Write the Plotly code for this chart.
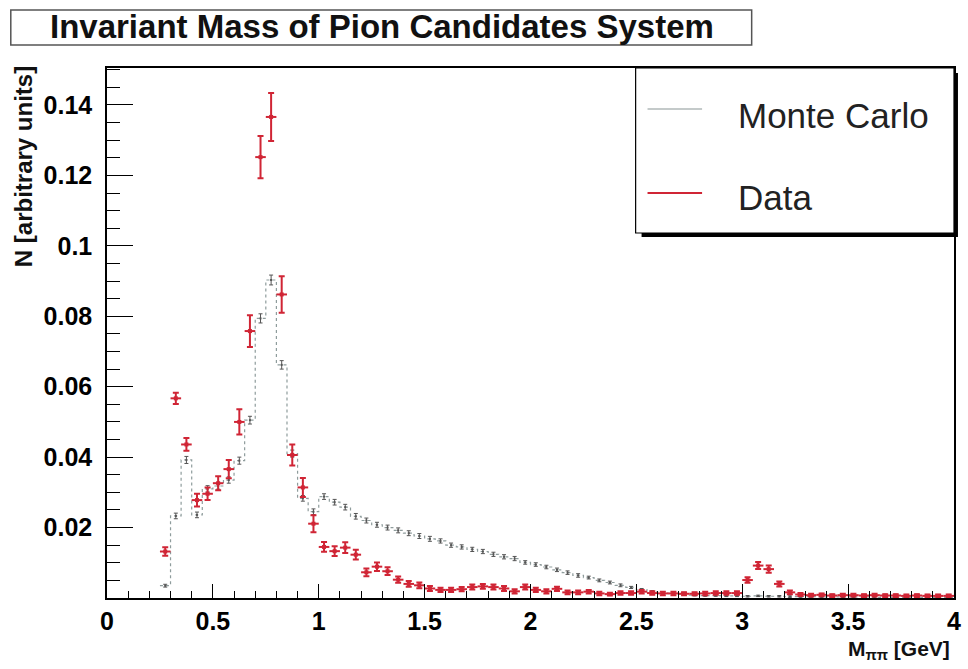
import plotly.graph_objects as go

# ---------------- data (bin centres in GeV, bin width 0.05) ----------------
data_mass = [0.275, 0.325, 0.375, 0.425, 0.475, 0.525, 0.575, 0.625, 0.675, 0.725,
             0.775, 0.825, 0.875, 0.925, 0.975, 1.025, 1.075, 1.125, 1.175, 1.225,
             1.275, 1.325, 1.375, 1.425, 1.475, 1.525, 1.575, 1.625, 1.675, 1.725,
             1.775, 1.825, 1.875, 1.925, 1.975, 2.025, 2.075, 2.125, 2.175, 2.225,
             2.275, 2.325, 2.375, 2.425, 2.475, 2.525, 2.575, 2.625, 2.675, 2.725,
             2.775, 2.825, 2.875, 2.925, 2.975, 3.025, 3.075, 3.125, 3.175, 3.225,
             3.275, 3.325, 3.375, 3.425, 3.475, 3.525, 3.575, 3.625, 3.675, 3.725,
             3.775, 3.825, 3.875, 3.925, 3.975]

data_vals = [0.0132, 0.0567, 0.0436, 0.0278, 0.0296, 0.0326, 0.0366, 0.0500, 0.0758, 0.1252,
             0.1366, 0.0862, 0.0406, 0.0314, 0.0211, 0.0145, 0.0133, 0.0143, 0.0123, 0.0073,
             0.0089, 0.0076, 0.0052, 0.0040, 0.0036, 0.0027, 0.0023, 0.0023, 0.0025, 0.0031,
             0.0033, 0.0031, 0.0027, 0.0019, 0.0031, 0.0023, 0.0019, 0.0026, 0.0016, 0.0016,
             0.0018, 0.0013, 0.0011, 0.0014, 0.0014, 0.0018, 0.0014, 0.0013, 0.0013, 0.0012,
             0.0012, 0.0013, 0.0014, 0.0014, 0.0014, 0.0051, 0.0092, 0.0082, 0.0040, 0.0016,
             0.0010, 0.0008, 0.0009, 0.0007, 0.0008, 0.0008, 0.0007, 0.0008, 0.0007, 0.0007,
             0.0006, 0.0007, 0.0006, 0.0006, 0.0006]

data_errs = [0.0012, 0.0016, 0.0018, 0.0018, 0.0018, 0.0020, 0.0026, 0.0036, 0.0045, 0.0060,
             0.0068, 0.0052, 0.0030, 0.0027, 0.0024, 0.0014, 0.0014, 0.0015, 0.0014, 0.0011,
             0.0012, 0.0011, 0.0009, 0.0008, 0.0008, 0.0007, 0.0006, 0.0006, 0.0006, 0.0007,
             0.0007, 0.0007, 0.0007, 0.0006, 0.0007, 0.0006, 0.0006, 0.0006, 0.0005, 0.0005,
             0.0005, 0.0005, 0.0004, 0.0005, 0.0005, 0.0005, 0.0005, 0.0005, 0.0005, 0.0004,
             0.0004, 0.0005, 0.0005, 0.0005, 0.0005, 0.0008, 0.0010, 0.0010, 0.0007, 0.0005,
             0.0004, 0.0004, 0.0004, 0.0004, 0.0004, 0.0004, 0.0004, 0.0004, 0.0004, 0.0004,
             0.0004, 0.0004, 0.0004, 0.0004, 0.0004]

mc_mass = data_mass
mc_vals = [0.0035, 0.0233, 0.0392, 0.0236, 0.0310, 0.0318, 0.0335, 0.0390, 0.0505, 0.0794,
           0.0903, 0.0662, 0.0410, 0.0283, 0.0245, 0.0288, 0.0272, 0.0258, 0.0232, 0.0220,
           0.0208, 0.0200, 0.0192, 0.0184, 0.0176, 0.0168, 0.0162, 0.0150, 0.0145, 0.0138,
           0.0132, 0.0124, 0.0117, 0.0112, 0.0101, 0.0095, 0.0088, 0.0080, 0.0072, 0.0064,
           0.0058, 0.0050, 0.0044, 0.0036, 0.0030, 0.0024, 0.0018, 0.0014, 0.0012, 0.0010,
           0.0008, 0.0007, 0.0007, 0.0006, 0.0006, 0.0005, 0.0006, 0.0005, 0.0005, 0.0004,
           0.0004, 0.0004, 0.0003, 0.0003, 0.0003, 0.0003, 0.0003, 0.0002, 0.0002, 0.0002,
           0.0002, 0.0002, 0.0002, 0.0002, 0.0002]
mc_errs = [0.0004, 0.0008, 0.0010, 0.0008, 0.0009, 0.0009, 0.0009, 0.0010, 0.0011, 0.0013,
           0.0014, 0.0012, 0.0010, 0.0008, 0.0008, 0.0008, 0.0008, 0.0008, 0.0008, 0.0007,
           0.0007, 0.0007, 0.0007, 0.0007, 0.0007, 0.0007, 0.0006, 0.0006, 0.0006, 0.0006,
           0.0006, 0.0006, 0.0006, 0.0006, 0.0005, 0.0005, 0.0005, 0.0005, 0.0005, 0.0005,
           0.0004, 0.0004, 0.0004, 0.0004, 0.0003, 0.0003, 0.0003, 0.0003, 0.0003, 0.0003,
           0.0002, 0.0002, 0.0002, 0.0002, 0.0002, 0.0002, 0.0002, 0.0002, 0.0002, 0.0002,
           0.0002, 0.0002, 0.0002, 0.0002, 0.0002, 0.0002, 0.0002, 0.0002, 0.0002, 0.0002,
           0.0002, 0.0002, 0.0002, 0.0002, 0.0002]

half_bin = 0.025
x_ticks = [0, 0.5, 1, 1.5, 2, 2.5, 3, 3.5, 4]
x_ticktext = ["0", "0.5", "1", "1.5", "2", "2.5", "3", "3.5", "4"]
y_ticks = [0.02, 0.04, 0.06, 0.08, 0.10, 0.12, 0.14]
y_ticktext = ["0.02", "0.04", "0.06", "0.08", "0.1", "0.12", "0.14"]

# ---------------- styling ----------------
W, H = 968, 669
L, R, T, B = 107, 961, 68, 598
FONT = "Liberation Sans, Arial, sans-serif"
RED = "#d02535"
MCGREY = "#8e9c9c"


def px(x):
    return (x - L) / (R - L)


def py(y):
    return (B - y) / (B - T)


# MC step histogram built from the bin centres
mc_edges = [m - half_bin for m in mc_mass] + [mc_mass[-1] + half_bin]
mc_step = mc_vals + [mc_vals[-1]]

fig = go.Figure()
fig.add_trace(go.Scatter(
    x=mc_edges, y=mc_step, mode="lines", line_shape="hv",
    line=dict(color=MCGREY, width=1.2, dash="dot"), hoverinfo="skip", showlegend=False))
fig.add_trace(go.Scatter(
    x=mc_mass, y=mc_vals, mode="markers",
    marker=dict(color="#555555", size=2, symbol="square"),
    error_y=dict(type="data", array=mc_errs, color="#555555", thickness=1, width=2),
    showlegend=False))
fig.add_trace(go.Scatter(
    x=data_mass, y=data_vals, mode="markers",
    marker=dict(color=RED, size=4, symbol="square"),
    error_y=dict(type="data", array=data_errs, color=RED, thickness=2, width=3),
    error_x=dict(type="constant", value=half_bin, color=RED, thickness=2, width=0),
    showlegend=False))

tickfont = dict(family=FONT, size=25, color="black", weight="bold")

fig.update_layout(
    width=W, height=H,
    margin=dict(l=L, r=W - R, t=T, b=H - B),
    paper_bgcolor="white", plot_bgcolor="white",
    showlegend=False,
    xaxis=dict(range=[0, 4], tickvals=x_ticks, ticktext=x_ticktext,
               ticks="inside", ticklen=14, tickwidth=1.2, tickcolor="black",
               minor=dict(dtick=0.1, tick0=0, ticks="inside", ticklen=7, tickcolor="black", tickwidth=1),
               showgrid=False, zeroline=False, showline=True, linecolor="black", linewidth=1.5,
               mirror=True, tickfont=tickfont, ticklabelstandoff=0),
    yaxis=dict(range=[0, 0.1505], tickvals=y_ticks, ticktext=y_ticktext,
               ticks="inside", ticklen=26, tickwidth=1.2, tickcolor="black",
               minor=dict(dtick=0.005, tick0=0, ticks="inside", ticklen=13, tickcolor="black", tickwidth=1),
               showgrid=False, zeroline=False, showline=True, linecolor="black", linewidth=1.5,
               mirror=True, tickfont=tickfont, ticklabelstandoff=8),
)

shapes = [
    # title box
    dict(type="rect", xref="paper", yref="paper", x0=px(10), x1=px(757), y0=py(45), y1=py(10),
         line=dict(color="#555555", width=1.5), fillcolor="white", layer="above"),
    # legend shadow + box
    dict(type="rect", xref="paper", yref="paper", x0=px(646), x1=px(965), y0=py(237), y1=py(73),
         line=dict(width=0), fillcolor="black", layer="above"),
    dict(type="rect", xref="paper", yref="paper", x0=px(640), x1=px(961), y0=py(233), y1=py(68),
         line=dict(color="black", width=1.2), fillcolor="white", layer="above"),
    # legend line samples
    dict(type="line", xref="paper", yref="paper", x0=px(652), x1=px(707), y0=py(109), y1=py(109),
         line=dict(color="#b0b8b8", width=1.5), layer="above"),
    dict(type="line", xref="paper", yref="paper", x0=px(652), x1=px(707), y0=py(193), y1=py(193),
         line=dict(color=RED, width=2), layer="above"),
]
fig.update_layout(shapes=shapes)

annotations = [
    dict(text="Invariant Mass of Pion Candidates System", xref="paper", yref="paper",
         x=px(384), y=py(26), xanchor="center", yanchor="middle", showarrow=False,
         font=dict(family=FONT, size=33, color="#111111", weight="bold")),
    dict(text="Monte Carlo", xref="paper", yref="paper", x=px(741), y=py(116),
         xanchor="left", yanchor="middle", showarrow=False,
         font=dict(family=FONT, size=35, color="#222222")),
    dict(text="Data", xref="paper", yref="paper", x=px(741), y=py(198),
         xanchor="left", yanchor="middle", showarrow=False,
         font=dict(family=FONT, size=35, color="#222222")),
    dict(text="N [arbitrary units]", xref="paper", yref="paper", x=px(23), y=py(64),
         xanchor="center", yanchor="top", textangle=-90, showarrow=False,
         font=dict(family=FONT, size=24, color="#111111", weight="bold")),
    dict(text="M<sub>ππ</sub> [GeV]", xref="paper", yref="paper", x=px(959), y=py(650),
         xanchor="right", yanchor="middle", showarrow=False,
         font=dict(family=FONT, size=21, color="#111111", weight="bold")),
]
fig.update_layout(annotations=annotations)

fig.write_html("out.html")
